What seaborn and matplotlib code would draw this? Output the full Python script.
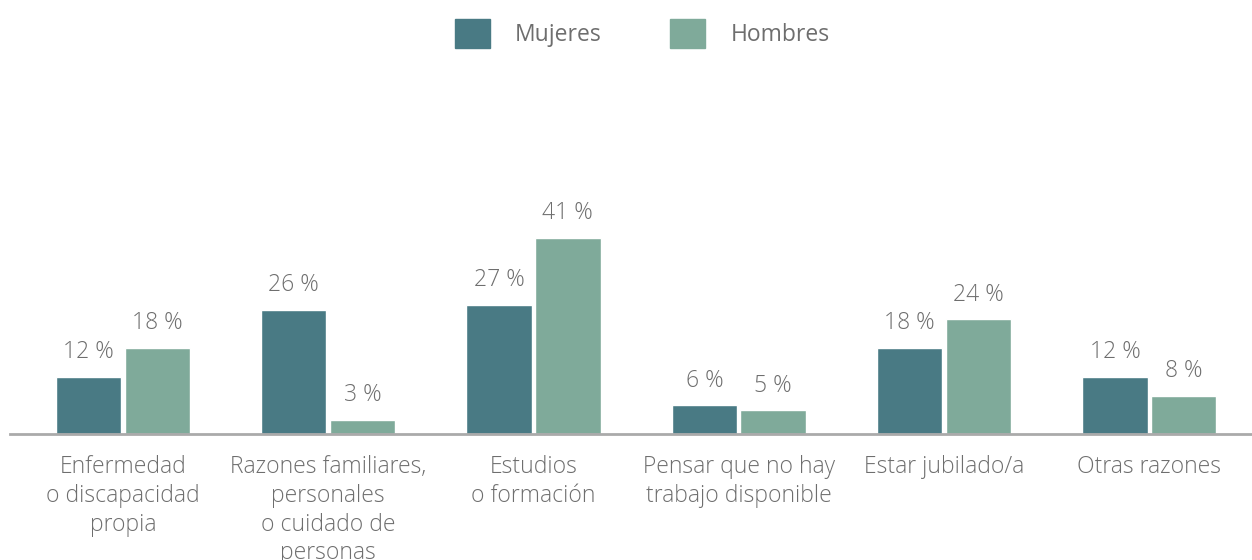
import pandas as pd
import matplotlib.pyplot as plt
import seaborn as sns

# Data
categories = ["Enfermedad\no discapacidad\npropia",
              "Razones familiares,\npersonales\no cuidado de\npersonas",
              "Estudios\no formación",
              "Pensar que no hay\ntrabajo disponible",
              "Estar jubilado/a",
              "Otras razones"]
mujeres = [12, 26, 27, 6, 18, 12]
hombres = [18, 3, 41, 5, 24, 8]
series = ["Mujeres", "Hombres"]

df = pd.DataFrame({
    "categoria": categories * 2,
    "valor": mujeres + hombres,
    "sexo": [series[0]] * len(categories) + [series[1]] * len(categories),
})

sns.set_theme(style="white")
plt.rcParams["font.family"] = ["Open Sans", "DejaVu Sans"]
text_color = "#6e6e6e"
palette = {"Mujeres": "#497a84", "Hombres": "#7faa9a"}

fig = plt.figure(figsize=(12.52, 5.6), dpi=100)
ax = fig.add_axes([10 / 1252, 126 / 560, 1242 / 1252, 374 / 560])

sns.barplot(data=df, x="categoria", y="valor", hue="sexo", palette=palette,
            width=0.67, gap=0.05, saturation=1, ax=ax, legend=False)

for container in ax.containers:
    ax.bar_label(container, labels=[f"{v:.0f} %" for v in container.datavalues],
                 padding=9, fontsize=16.5, color=text_color, fontweight="light")

ax.set_ylim(0, 78.2)
ax.set_xlim(-0.55, 5.5)
ax.set_xlabel("")
ax.set_ylabel("")
ax.set_yticks([])
for side in ["top", "right", "left"]:
    ax.spines[side].set_visible(False)
ax.spines["bottom"].set_color("#aaaaaa")
ax.spines["bottom"].set_linewidth(2)
ax.tick_params(axis="x", length=0, pad=15, labelsize=16.5, colors=text_color)
for lbl in ax.get_xticklabels():
    lbl.set_linespacing(1.27)
    lbl.set_fontweight("light")
    lbl.set_verticalalignment("top")

# Legend
handles = [plt.Rectangle((0, 0), 1, 1, color=palette[s]) for s in series]
fig.legend(handles, series, loc="upper center", bbox_to_anchor=(0.513, 1.0),
           ncol=2, frameon=False, fontsize=16.5, labelcolor=text_color,
           handlelength=1.52, handleheight=1.52, handletextpad=1.1,
           columnspacing=3.0, borderaxespad=0.45)

fig.savefig("out.png", dpi=100)
